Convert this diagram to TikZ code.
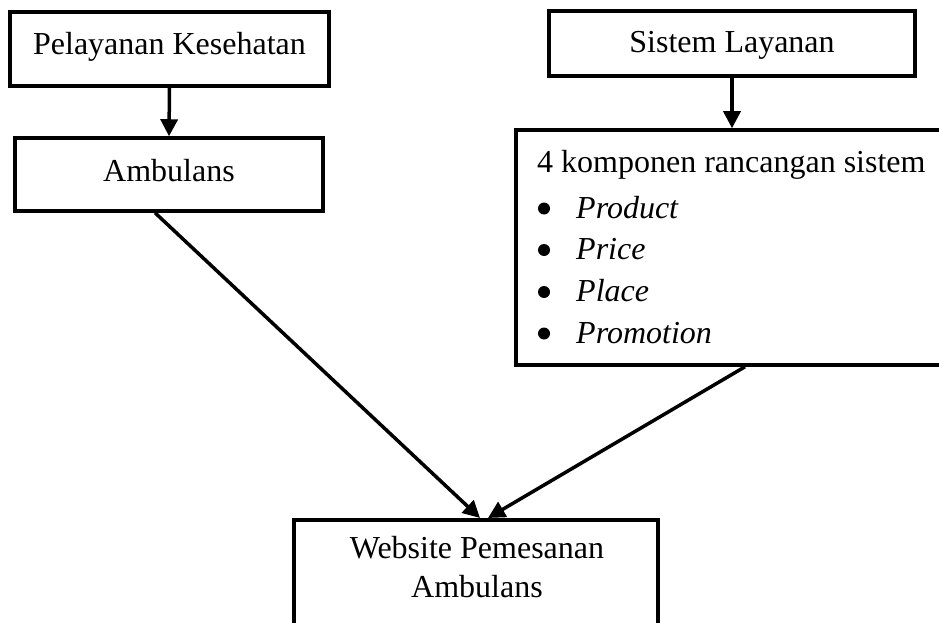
\documentclass[tikz,border=0pt]{standalone}
\usepackage{fontspec}
\setmainfont{Liberation Serif}
\usetikzlibrary{arrows.meta}
\begin{document}
\begin{tikzpicture}[x=1pt,y=-1pt,
  box/.style={draw=black,line width=3.5pt,rectangle,inner sep=0pt,fill=white},
  txt/.style={inner sep=0pt,font=\fontsize{32}{38}\selectfont},
  dot/.style={circle,fill=black,inner sep=0pt,minimum size=12pt},
  arr/.style={line width=3.5pt,-{Triangle[length=17pt,width=17pt]}}]
\clip (0,0) rectangle (939,623);
\fill[white] (0,0) rectangle (939,623);
% boxes
\node[box,minimum width=319pt,minimum height=74pt] (pel) at (169.5,49) {};
\node[txt,anchor=base] (peltxt) at (169.5,55) {Pelayanan Kesehatan};
\node[box,minimum width=308pt,minimum height=73pt] (amb) at (169,174.5) {};
\node[txt,anchor=base] (ambtxt) at (169,181) {Ambulans};
\node[box,minimum width=366pt,minimum height=65pt] (sis) at (732,43.5) {};
\node[txt,anchor=base] (sistxt) at (732,53) {Sistem Layanan};
\node[box,minimum width=444pt,minimum height=235pt] (komp) at (738,247.5) {};
\node[txt,anchor=base west] (k0) at (537,172.7) {4 komponen rancangan sistem};
\node[dot] (b1) at (544,208.5) {};
\node[txt,anchor=base west] (k1) at (576,218.3) {\itshape Product};
\node[dot] (b2) at (544,250) {};
\node[txt,anchor=base west] (k2) at (576,259.3) {\itshape Price};
\node[dot] (b3) at (544,292) {};
\node[txt,anchor=base west] (k3) at (576,301.7) {\itshape Place};
\node[dot] (b4) at (544,333.5) {};
\node[txt,anchor=base west] (k4) at (576,343.3) {\itshape Promotion};
\node[box,minimum width=364pt,minimum height=142pt,anchor=north] (web) at (476,518) {};
\node[txt,anchor=base] (w1) at (477,558) {Website Pemesanan};
\node[txt,anchor=base] (w2) at (477,597) {Ambulans};
% arrows
\draw[arr] (pel.south) -- (amb.north);
\draw[arr] (sis.south) -- (sis.south |- komp.north);
\draw[arr] ([xshift=-14pt]amb.south) -- ([xshift=4pt]web.north);
\draw[arr] ([xshift=7pt]komp.south) -- ([xshift=12pt]web.north);
\end{tikzpicture}
\end{document}
